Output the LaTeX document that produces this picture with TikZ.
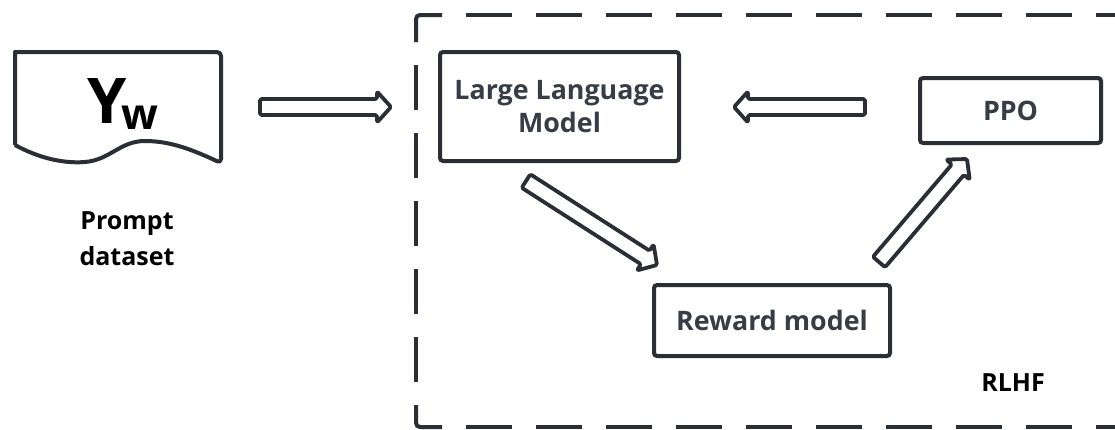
\documentclass[tikz,border=0pt]{standalone}
\usepackage{fontspec}
\setmainfont{Open Sans}
\usetikzlibrary{calc}
\definecolor{linec}{HTML}{2B2F35}
\definecolor{boxtext}{HTML}{383D45}
\tikzset{
  box/.style={draw=linec, line width=4pt, rounded corners=3pt, inner sep=0pt,
    font=\fontsize{26.8}{33}\selectfont\bfseries, text=boxtext, align=center},
  label/.style={inner sep=0pt, font=\fontsize{25}{36}\selectfont\bfseries, text=black, align=center},
  blockarrow/.style={draw=linec, line width=3.8pt, line join=round, rounded corners=1.5pt},
  frame/.style={draw=linec, line width=4pt},
}
\newcommand\hollowarrow[2]{%
  \draw[blockarrow] let \p1=(#1), \p2=(#2), \n1={atan2(\y2-\y1,\x2-\x1)} in
    ($(#1)+({\n1+90}:8pt)$) --
    ($(#2)+({\n1+180}:14pt)+({\n1+90}:8pt)$) --
    ($(#2)+({\n1+180}:14pt)+({\n1+90}:15.5pt)$) --
    (#2) --
    ($(#2)+({\n1+180}:14pt)+({\n1-90}:15.5pt)$) --
    ($(#2)+({\n1+180}:14pt)+({\n1-90}:8pt)$) --
    ($(#1)+({\n1-90}:8pt)$) -- cycle;}
\begin{document}
\begin{tikzpicture}[x=1pt,y=-1pt]
\useasboundingbox[fill=white] (0,0) rectangle (1115,429);

% dashed RLHF frame
\draw[frame, rounded corners=4pt] (442,15) -- (416,15) -- (416,42);
\draw[frame, rounded corners=4pt] (416,405) -- (416,427) -- (442,427);
\draw[frame, dash pattern=on 45pt off 23pt, dash phase=45pt] (416,42) -- (416,405);
\draw[frame, dash pattern=on 46pt off 24pt, dash phase=46pt] (442,15) -- (1140,15);
\draw[frame, dash pattern=on 46pt off 24pt, dash phase=46pt] (442,427) -- (1140,427);

% prompt document
\draw[frame, line join=round] (15,145) -- (15,52) [rounded corners=4pt] -- (221,52) -- (221,163) [sharp corners]
  .. controls (195,151) and (172,141) .. (145,141)
  .. controls (120,141) and (110,160) .. (85,162)
  .. controls (60,164) and (35,156) .. (15,145);
\node[inner sep=0pt, anchor=base west] (yw) at (87,123)
  {\bfseries\fontsize{63}{63}\selectfont Y\kern-5pt\raisebox{-6pt}{\fontsize{43}{43}\selectfont w}};
\node[label] (prompt) at (127,239) {Prompt\\dataset};

% boxes
\node[box, minimum width=239pt, minimum height=109pt] (llm) at (559.5,106.5) {Large Language\\Model};
\node[box, minimum width=181pt, minimum height=65pt] (ppo) at (1010.5,110.5) {PPO};
\node[box, minimum width=236pt, minimum height=71pt] (rm) at (772,320.5) {Reward model};
\node[label] (rlhf) at (1013,383) {RLHF};

% arrows
\coordinate (a1s) at (260,107); \coordinate (a1e) at (391,107);
\coordinate (a2s) at (865,107); \coordinate (a2e) at (734,107);
\coordinate (a3s) at (526,181); \coordinate (a3e) at (657,265);
\coordinate (a4s) at (879,262); \coordinate (a4e) at (967,159);
\hollowarrow{a1s}{a1e}
\hollowarrow{a2s}{a2e}
\hollowarrow{a3s}{a3e}
\hollowarrow{a4s}{a4e}
\end{tikzpicture}
\end{document}
